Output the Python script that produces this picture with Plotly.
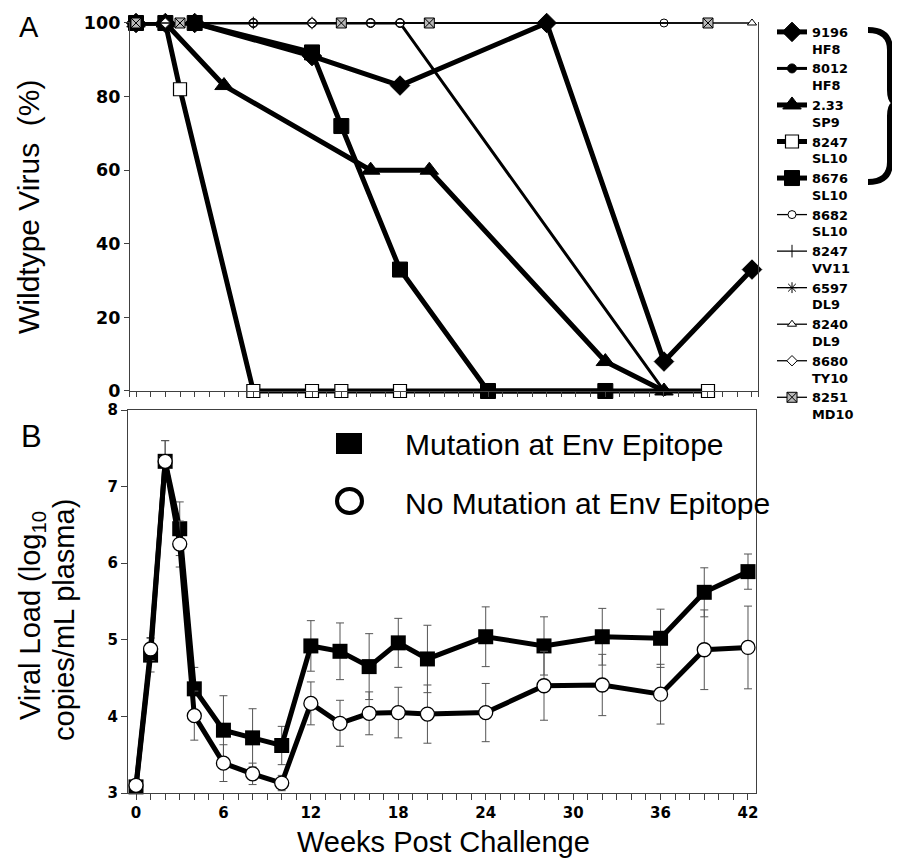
import plotly.graph_objects as go

# ---------------- Panel A data (percent wildtype virus) ----------------
weeks_9196 = [0, 2, 4, 12, 18, 28, 36, 42]
wt_9196 = [100, 100, 100, 91, 83, 100, 8, 33]
weeks_8012 = [0, 2, 4, 8, 12, 16, 18, 36]
wt_8012 = [100, 100, 100, 100, 100, 100, 100, 0]
weeks_233 = [0, 2, 6, 16, 20, 32, 36]
wt_233 = [100, 100, 83, 60, 60, 8, 0]
weeks_8247sl = [0, 2, 3, 8, 12, 14, 18, 39]
wt_8247sl = [100, 100, 82, 0, 0, 0, 0, 0]
weeks_8676 = [0, 2, 4, 12, 14, 18, 24, 32]
wt_8676 = [100, 100, 100, 92, 72, 33, 0, 0]
weeks_8682 = [0, 2, 8, 16, 18, 36]
wt_8682 = [100, 100, 100, 100, 100, 100]
weeks_8247vv = [0, 2, 4, 8, 12]
wt_8247vv = [100, 100, 100, 100, 100]
weeks_6597 = [0, 2, 4]
wt_6597 = [100, 100, 100]
weeks_8240 = [0, 2, 42]
wt_8240 = [100, 100, 100]
weeks_8680 = [0, 2, 12]
wt_8680 = [100, 100, 100]
weeks_8251 = [0, 3, 14, 20, 39]
wt_8251 = [100, 100, 100, 100, 100]

# ---------------- Panel B data (viral load, log10) ----------------
weeks_b = [0, 1, 2, 3, 4, 6, 8, 10, 12, 14, 16, 18, 20, 24, 28, 32, 36, 39, 42]
vl_mut = [3.08, 4.80, 7.33, 6.45, 4.36, 3.82, 3.72, 3.62, 4.92, 4.85, 4.65, 4.96,
          4.75, 5.04, 4.92, 5.04, 5.02, 5.62, 5.89]
err_mut = [0.0, 0.22, 0.27, 0.35, 0.28, 0.45, 0.38, 0.25, 0.33, 0.37, 0.43, 0.32,
           0.44, 0.39, 0.38, 0.37, 0.38, 0.32, 0.23]
vl_nomut = [3.10, 4.88, 7.33, 6.25, 4.01, 3.39, 3.25, 3.13, 4.17, 3.91, 4.04, 4.05,
            4.03, 4.05, 4.40, 4.41, 4.29, 4.87, 4.90]
err_nomut = [0.0, 0.15, 0.27, 0.30, 0.32, 0.24, 0.14, 0.10, 0.28, 0.30, 0.28, 0.33,
             0.38, 0.38, 0.45, 0.40, 0.39, 0.52, 0.54]

# page has an 8px body margin: figure is 892x856 placed at (8,8)
OFF = 8
W, H = 900 - OFF, 864 - OFF
def px(x):
    return (x - OFF) / W
def py(y):
    return 1 - (y - OFF) / H

BOLD = dict(family="DejaVu Sans", weight="bold", color="black")
SANS = "Liberation Sans, Arial"
AX = "#404040"

fig = go.Figure()

def a_trace(name, x, y, symbol, size, lw, fill="black", mlw=1):
    fig.add_trace(go.Scatter(
        x=x, y=y, name=name, mode="lines+markers", xaxis="x", yaxis="y",
        line=dict(color="black", width=lw),
        marker=dict(symbol=symbol, size=size, color=fill,
                    line=dict(color="black", width=mlw)),
        cliponaxis=False, legend="legend"))

a_trace("9196<br>HF8", weeks_9196, wt_9196, "diamond", 15, 5)
a_trace("8012<br>HF8", weeks_8012, wt_8012, "circle", 9, 3)
a_trace("2.33<br>SP9", weeks_233, wt_233, "triangle-up", 16, 5)
a_trace("8247<br>SL10", weeks_8247sl, wt_8247sl, "square", 13, 5, fill="white", mlw=1.2)
a_trace("8676<br>SL10", weeks_8676, wt_8676, "square", 15, 5)
a_trace("8682<br>SL10", weeks_8682, wt_8682, "circle", 8, 1.3, fill="white", mlw=1)
a_trace("8247<br>VV11", weeks_8247vv, wt_8247vv, "line-ns-open", 9, 1.3, mlw=1)
a_trace("6597<br>DL9", weeks_6597, wt_6597, "asterisk-open", 9, 1.3, mlw=1)
a_trace("8240<br>DL9", weeks_8240, wt_8240, "triangle-up", 8, 1.3, fill="white", mlw=1)
a_trace("8680<br>TY10", weeks_8680, wt_8680, "diamond", 8, 1.3, fill="white", mlw=1)
a_trace("8251<br>MD10", weeks_8251, wt_8251, "square-x", 10, 1.3, fill="#b8b8b8", mlw=1)

# Panel B traces
fig.add_trace(go.Scatter(
    x=weeks_b, y=vl_mut, mode="lines+markers", xaxis="x2", yaxis="y2",
    name="Mutation at Env Epitope", showlegend=False,
    line=dict(color="black", width=5),
    marker=dict(symbol="square", size=15, color="black"),
    error_y=dict(type="data", array=err_mut, visible=True, color="#555555",
                 thickness=1, width=4),
    cliponaxis=False))
fig.add_trace(go.Scatter(
    x=weeks_b, y=vl_nomut, mode="lines+markers", xaxis="x2", yaxis="y2",
    name="No Mutation at Env Epitope", showlegend=False,
    line=dict(color="black", width=5),
    marker=dict(symbol="circle", size=14, color="white",
                line=dict(color="black", width=1.3)),
    error_y=dict(type="data", array=err_nomut, visible=True, color="#555555",
                 thickness=1, width=4),
    cliponaxis=False))

# axes geometry (reference pixel coordinates)
a_top, a_bot = 23, 391
unit = (a_bot - a_top) / 100.0
ya_lo, ya_hi = -1.5, 100.3

fig.update_layout(
    width=W, height=H, margin=dict(l=0, r=0, t=0, b=0, autoexpand=False),
    paper_bgcolor="white", plot_bgcolor="white",
    xaxis=dict(domain=[px(130), px(758)], range=[-0.41, 42.41], anchor="free",
               position=py(a_bot), showline=True, linecolor=AX, linewidth=1.2,
               ticks="outside", tick0=0, dtick=1, ticklen=5, tickcolor=AX,
               showticklabels=False, showgrid=False, zeroline=False),
    yaxis=dict(domain=[py(a_bot - ya_lo * unit), py(a_top - (ya_hi - 100) * unit)],
               range=[ya_lo, ya_hi], anchor="x", showline=True, mirror=True,
               linecolor=AX, linewidth=1.2, ticks="outside", ticklen=5,
               tickcolor=AX, tickvals=[0, 20, 40, 60, 80, 100],
               tickfont=dict(size=17.5, **BOLD), showgrid=False, zeroline=False),
    xaxis2=dict(domain=[px(128), px(756)], range=[-0.55, 42.55], anchor="y2",
                showline=True, mirror=True, linecolor=AX, linewidth=1.2,
                ticks="outside", tick0=0, dtick=6, ticklen=6, tickcolor=AX,
                minor=dict(dtick=1, ticks="outside", ticklen=6, tickcolor=AX),
                tickfont=dict(size=15, **BOLD), showgrid=False, zeroline=False),
    yaxis2=dict(domain=[py(793), py(410)], range=[3, 8], anchor="x2",
                showline=True, mirror=True, linecolor=AX, linewidth=1.2,
                ticks="outside", dtick=1, ticklen=6, tickcolor=AX,
                tickfont=dict(size=15, **BOLD), showgrid=False, zeroline=False),
    legend=dict(x=px(772), y=py(17), xanchor="left", yanchor="top",
                font=dict(size=12.9, **BOLD), valign="top",
                bgcolor="rgba(0,0,0,0)", itemwidth=30, tracegroupgap=0),
    showlegend=True,
)

def P(x, y):
    return f"{px(x):.5f},{py(y):.5f}"

brace = (f"M{P(868,30)} Q{P(890,30)} {P(890,50)} L{P(890,90)} "
         f"Q{P(890,103)} {P(898,103)} Q{P(890,103)} {P(890,116)} "
         f"L{P(890,162)} Q{P(890,182)} {P(868,182)}")
shapes = [
    dict(type="path", xref="paper", yref="paper", path=brace,
         line=dict(color="black", width=6)),
    dict(type="rect", xref="paper", yref="paper", x0=px(336), x1=px(362),
         y0=py(454), y1=py(433), fillcolor="black", line=dict(width=0)),
    dict(type="circle", xref="paper", yref="paper", x0=px(337), x1=px(362),
         y0=py(513), y1=py(489), fillcolor="white",
         line=dict(color="black", width=4)),
]

ann = [
    dict(text="A", x=px(29), y=py(27), font=dict(family=SANS, size=29, color="black")),
    dict(text="B", x=px(31), y=py(437), font=dict(family=SANS, size=31, color="black")),
    dict(text="Wildtype Virus&nbsp; (%)", x=px(29), y=py(207), textangle=-90,
         font=dict(family=SANS, size=30, color="black")),
    dict(text="Viral Load (log<sub>10</sub>", x=px(32), y=py(616), textangle=-90,
         font=dict(family=SANS, size=29, color="black")),
    dict(text="copies/mL plasma)", x=px(64), y=py(620), textangle=-90,
         font=dict(family=SANS, size=29, color="black")),
    dict(text="Weeks Post Challenge", x=px(443), y=py(842),
         font=dict(family=SANS, size=29, color="black")),
    dict(text="Mutation at Env Epitope", x=px(403), y=py(445), xanchor="left",
         font=dict(family=SANS, size=30, color="black")),
    dict(text="No Mutation at Env Epitope", x=px(403), y=py(503), xanchor="left",
         font=dict(family=SANS, size=30, color="black")),
]
for a in ann:
    a.setdefault("xanchor", "center")
    a.update(xref="paper", yref="paper", yanchor="middle", showarrow=False)

fig.update_layout(shapes=shapes, annotations=ann)
fig.write_html("out.html")
